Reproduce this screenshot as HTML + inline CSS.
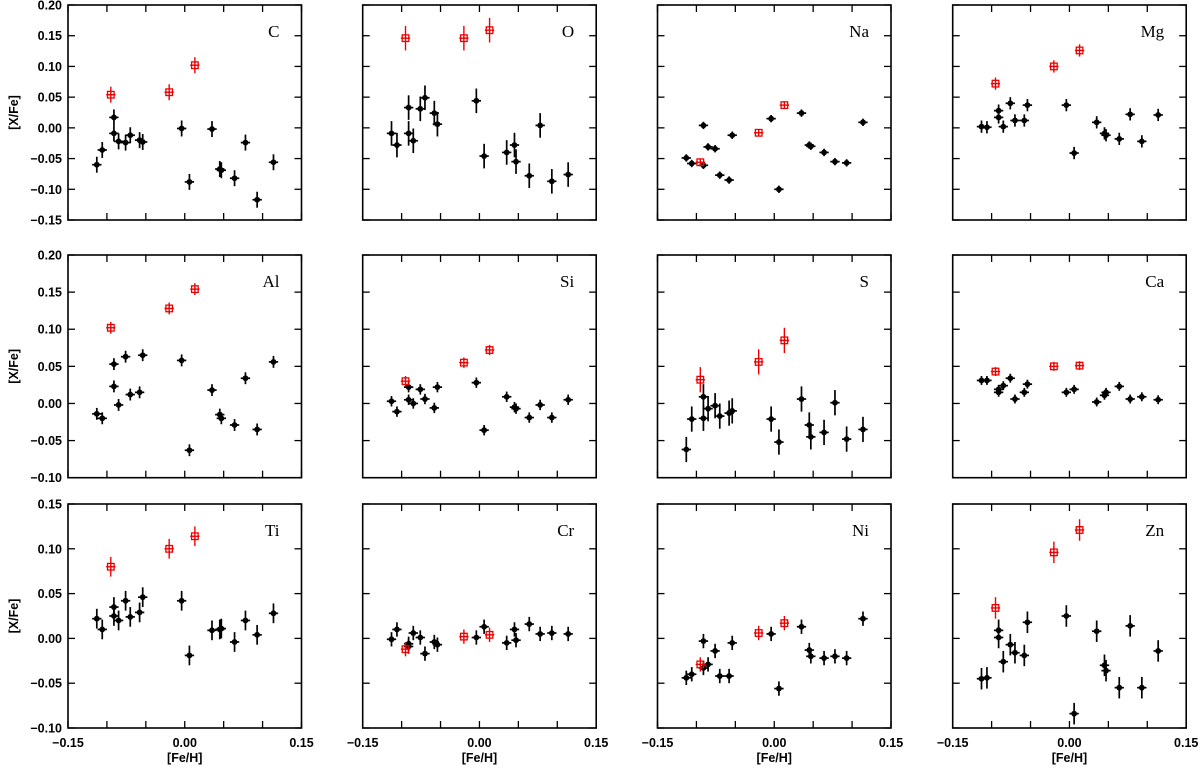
<!DOCTYPE html>
<html><head><meta charset="utf-8"><style>
html,body{margin:0;padding:0;background:#fff;}
svg{display:block;}
text{font-family:"Liberation Sans",sans-serif;}
</style></head><body>
<svg id="chart" width="1200" height="768" viewBox="0 0 1200 768" xmlns="http://www.w3.org/2000/svg"></svg>
<script>
// ---- data ----
const starFeH = [-0.113,-0.106,-0.091,-0.091,-0.085,-0.076,-0.070,-0.058,-0.054,-0.004,0.006,0.035,0.045,0.047,0.064,0.078,0.093,0.114];
const redFeH = [-0.095,-0.020,0.013];
const elements = ["C","O","Na","Mg","Al","Si","S","Ca","Ti","Cr","Ni","Zn"];
const valC  = [-0.060,-0.036,0.017,-0.009,-0.022,-0.024,-0.012,-0.020,-0.023,-0.001,-0.088,-0.002,-0.067,-0.069,-0.082,-0.024,-0.117,-0.056];
const valO  = [-0.009,-0.028,0.033,-0.009,-0.021,0.031,0.049,0.024,0.006,0.044,-0.046,-0.040,-0.028,-0.055,-0.078,0.004,-0.087,-0.076];
const valNa = [-0.049,-0.058,0.004,-0.061,-0.031,-0.034,-0.077,-0.085,-0.012,0.015,-0.100,0.024,-0.028,-0.030,-0.040,-0.055,-0.057,0.009];
const valMg = [0.002,0.001,0.028,0.017,0.002,0.040,0.012,0.012,0.037,0.037,-0.041,0.009,-0.009,-0.012,-0.018,0.022,-0.022,0.021];
const valAl = [-0.014,-0.020,0.053,0.023,-0.002,0.063,0.012,0.015,0.065,0.058,-0.063,0.018,-0.015,-0.020,-0.029,0.034,-0.035,0.056];
const valSi = [0.003,-0.011,0.022,0.005,0.000,0.019,0.006,-0.006,0.022,0.028,-0.036,0.009,-0.005,-0.007,-0.019,-0.002,-0.019,0.005];
const valS  = [-0.062,-0.021,0.009,-0.020,-0.007,-0.003,-0.017,-0.013,-0.010,-0.021,-0.052,0.006,-0.029,-0.045,-0.039,0.001,-0.048,-0.035];
const valCa = [0.031,0.031,0.019,0.015,0.024,0.034,0.006,0.015,0.026,0.015,0.019,0.002,0.011,0.015,0.023,0.006,0.009,0.005];
const valTi = [0.022,0.010,0.035,0.025,0.020,0.042,0.024,0.029,0.046,0.042,-0.019,0.009,0.010,0.011,-0.004,0.020,0.004,0.028];
const valCr = [-0.001,0.010,-0.009,-0.006,0.006,0.001,-0.017,-0.004,-0.007,0.001,0.013,-0.005,0.010,-0.002,0.016,0.005,0.006,0.005];
const valNi = [-0.044,-0.040,-0.003,-0.033,-0.029,-0.014,-0.042,-0.042,-0.005,0.005,-0.056,0.013,-0.013,-0.020,-0.022,-0.020,-0.022,0.022];
const valZn = [-0.045,-0.044,0.009,0.001,-0.026,-0.007,-0.016,-0.019,0.018,0.025,-0.084,0.008,-0.030,-0.036,-0.055,0.014,-0.055,-0.014];
const redC  = [0.054,0.058,0.102];
const redO  = [0.146,0.146,0.159];
const redNa = [-0.056,-0.008,0.037];
const redMg = [0.072,0.100,0.126];
const redAl = [0.102,0.128,0.154];
const redSi = [0.030,0.055,0.072];
const redS  = [0.032,0.056,0.085];
const redCa = [0.043,0.050,0.051];
const redTi = [0.080,0.100,0.114];
const redCr = [-0.012,0.002,0.004];
const redNi = [-0.029,0.006,0.017];
const redZn = [0.034,0.096,0.121];
const yErr = [0.013,0.020,0.006,0.010,0.008,0.007,0.017,0.006,0.011,0.008,0.008,0.012];
const xErr = 0.006;
const rowYTicks = [[0.20,0.15,0.10,0.05,0.00,-0.05,-0.10,-0.15],[0.20,0.15,0.10,0.05,0.00,-0.05,-0.10],[0.15,0.10,0.05,0.00,-0.05,-0.10]];
const xTickLabels = [-0.15,0.00,0.15];
const xTicks = [-0.15,-0.10,-0.05,0.00,0.05,0.10,0.15];

const blackVals=[valC,valO,valNa,valMg,valAl,valSi,valS,valCa,valTi,valCr,valNi,valZn];
const redVals=[redC,redO,redNa,redMg,redAl,redSi,redS,redCa,redTi,redCr,redNi,redZn];
// layout
const colL=[68,362.7,657.5,952.7], W=233.5;
const rows=[{t:5,b:220,min:-0.15,max:0.20},{t:255,b:477.7,min:-0.10,max:0.20},{t:504,b:728,min:-0.10,max:0.15}];
const NS="http://www.w3.org/2000/svg";
const svg=document.getElementById('chart');
function mk(tag,attrs,parent){const e=document.createElementNS(NS,tag);for(const k in attrs)e.setAttribute(k,attrs[k]);(parent||svg).appendChild(e);return e;}
function fmt(v){const s=Math.abs(v).toFixed(2);return (v<-1e-9?'\u2212':'')+s;}

for(let p=0;p<12;p++){
  const r=Math.floor(p/4), c=p%4, R=rows[r], L=colL[c];
  const xs=v=>L+(v+0.15)/0.30*W;
  const ys=v=>R.b-(v-R.min)/(R.max-R.min)*(R.b-R.t);
  const g=mk('g',{});
  
  
  const fr=mk('rect',{x:L,y:R.t,width:W,height:R.b-R.t,fill:'none',stroke:'#000','stroke-width':1.6},g);
  
  
  xTicks.forEach(v=>{const x=xs(v);
    mk('line',{x1:x,x2:x,y1:R.b,y2:R.b-7,stroke:'#000','stroke-width':1.3},g);
    mk('line',{x1:x,x2:x,y1:R.t,y2:R.t+7,stroke:'#000','stroke-width':1.3},g);});
  rowYTicks[r].forEach(v=>{const y=ys(v);
    mk('line',{x1:L,x2:L+7,y1:y,y2:y,stroke:'#000','stroke-width':1.3},g);
    mk('line',{x1:L+W,x2:L+W-7,y1:y,y2:y,stroke:'#000','stroke-width':1.3},g);
    if(c===0){const t=mk('text',{x:L-6,y:y+4.5,'text-anchor':'end','font-size':12.5,'font-weight':'bold',fill:'#000'},g);t.textContent=fmt(v);
      
      }
  });
  if(r===2){xTickLabels.forEach(v=>{const t=mk('text',{x:xs(v),y:747,'text-anchor':'middle','font-size':12.5,'font-weight':'bold',fill:'#000'},g);t.textContent=fmt(v);
      
      });
    const xt=mk('text',{x:L+W/2,y:762,'text-anchor':'middle','font-size':12.5,'font-weight':'bold',fill:'#000'},g);xt.textContent='[Fe/H]';
    
    }
  if(c===0){const cy=(R.t+R.b)/2;const yt=mk('text',{x:18,y:cy,'text-anchor':'middle','font-size':12.5,'font-weight':'bold',fill:'#000',transform:`rotate(-90 18 ${cy})`},g);yt.textContent='[X/Fe]';
    
    }
  const lab=mk('text',{x:L+W-22,y:R.t+32,'text-anchor':'end',fill:'#000',style:'font-family:"Liberation Serif",serif;font-size:17px;font-weight:normal;'},g);lab.textContent=elements[p];
  
  
  const ey=yErr[p];
  blackVals[p].forEach((v,i)=>{const x=xs(starFeH[i]),y=ys(v);
    const s=mk('g',{},g);
    
    
    mk('line',{x1:x,x2:x,y1:ys(v+ey),y2:ys(v-ey),stroke:'#000','stroke-width':1.7},s);
    mk('line',{x1:xs(starFeH[i]-xErr),x2:xs(starFeH[i]+xErr),y1:y,y2:y,stroke:'#000','stroke-width':1.7},s);
    mk('circle',{cx:x,cy:y,r:2.9,fill:'#000'},s);});
  redVals[p].forEach((v,i)=>{const x=xs(redFeH[i]),y=ys(v);
    const s=mk('g',{},g);
    
    
    mk('line',{x1:x,x2:x,y1:ys(v+ey),y2:ys(v-ey),stroke:'#e00','stroke-width':1.4},s);
    mk('line',{x1:xs(redFeH[i]-xErr),x2:xs(redFeH[i]+xErr),y1:y,y2:y,stroke:'#e00','stroke-width':1.4},s);
    mk('rect',{x:x-3.3,y:y-3.3,width:6.6,height:6.6,fill:'none',stroke:'#e00','stroke-width':1.3},s);});
}
</script>
</body></html>
